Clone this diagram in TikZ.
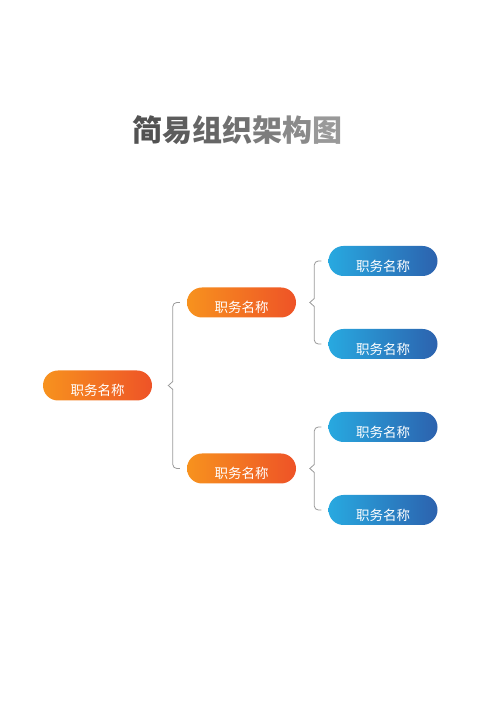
\documentclass[tikz,border=0pt]{standalone}
\usepackage{fontspec}
\newfontfamily\cjk{Noto Sans CJK SC}
\usetikzlibrary{calc}
\definecolor{orgL}{HTML}{F7921E}
\definecolor{orgR}{HTML}{EE5327}
\definecolor{bluL}{HTML}{28A9E0}
\definecolor{bluR}{HTML}{2C62AE}
\definecolor{braceGray}{HTML}{9A9A9A}
\begin{document}
\begin{tikzpicture}[
        x = 1pt, y = 1pt,
        box/.style = {rounded corners=15, minimum width=109, minimum height=30,
          inner sep=0, text height=21pt, text depth=0pt, text=white,
          font=\cjk\fontsize{13.5}{16}\selectfont},
        orangebox/.style = {box, left color=orgL, right color=orgR},
        bluebox/.style = {box, left color=bluL, right color=bluR},
        bracket/.style = {draw=braceGray, line width=0.8pt}]
      \useasboundingbox (0, 0) rectangle (500, 707);
      \node [font=\cjk\bfseries\fontsize{30}{36}\selectfont] (title) at (237, 577)
        {\textcolor{black!68}{简}\textcolor{black!64}{易}\textcolor{black!60}{组}\textcolor{black!56}{织}\textcolor{black!51}{架}\textcolor{black!46}{构}\textcolor{black!40}{图}};
      \node [orangebox] (root) at (97.5, 321.5) {职务名称};
      \node [orangebox] (mid1) at (241.5, 404.5) {职务名称};
      \node [orangebox] (mid2) at (241.5, 238.5) {职务名称};
      \node [bluebox] (b1) at (383, 446) {职务名称};
      \node [bluebox] (b2) at (383, 363) {职务名称};
      \node [bluebox] (b3) at (383, 280) {职务名称};
      \node [bluebox] (b4) at (383, 197) {职务名称};
      \foreach \p/\a/\b in {root/mid1/mid2, mid1/b1/b2, mid2/b3/b4}
        \draw [bracket] ($(\a.west)+(-7,0)$) -- ($(\a.west)+(-10,0)$)
          arc [start angle=90, end angle=180, radius=4]
          -- ($(\a.west |- \p.east)+(-14,4)$) -- ($(\a.west |- \p.east)+(-18.5,0)$)
          -- ($(\a.west |- \p.east)+(-14,-4)$) -- ($(\b.west)+(-14,4)$)
          arc [start angle=180, end angle=270, radius=4] -- ($(\b.west)+(-7,0)$);
    \end{tikzpicture}
\end{document}
